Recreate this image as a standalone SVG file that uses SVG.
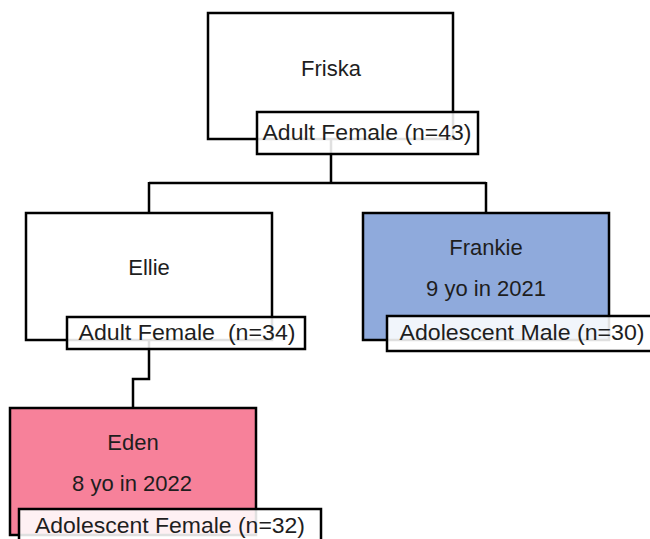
<svg xmlns="http://www.w3.org/2000/svg" width="650" height="539" viewBox="0 0 650 539">
<style>
.box{stroke:#000;stroke-width:2.5}
.lbl{fill:#fff;fill-opacity:0.88;stroke:#000;stroke-width:2.5}
.conn{fill:none;stroke:#000;stroke-width:2.5}
text{font-family:"Liberation Sans","Noto Sans",Arial,sans-serif;font-size:22px;fill:#1e1e1e;text-anchor:middle}
</style>
<rect width="650" height="539" fill="#fff"/>
<g id="connectors">
<path class="conn" d="M331,139 V183 M149,183 H486 M149,182 V213 M486,182 V213"/>
<path class="conn" d="M149,340 V379 H133 V408"/>
</g>
<g id="friska">
<rect class="box" x="208" y="13" width="245" height="126" fill="#fff"/>
<text x="331" y="76">Friska</text>
<rect class="lbl" x="257" y="112" width="221" height="42"/>
<text x="367" y="140" textLength="209" lengthAdjust="spacingAndGlyphs">Adult Female (n=43)</text>
</g>
<g id="ellie">
<rect class="box" x="26" y="213" width="246" height="127" fill="#fff"/>
<text x="149" y="275">Ellie</text>
<rect class="lbl" x="67" y="317" width="238" height="32"/>
<text x="187" y="340" textLength="217" lengthAdjust="spacingAndGlyphs" xml:space="preserve">Adult Female  (n=34)</text>
</g>
<g id="frankie">
<rect class="box" x="363" y="213" width="246" height="127" fill="#8FAADC"/>
<text x="486" y="255">Frankie</text>
<text x="486" y="296">9 yo in 2021</text>
<rect class="lbl" x="387" y="316" width="270" height="35"/>
<text x="522" y="340" textLength="245" lengthAdjust="spacingAndGlyphs">Adolescent Male (n=30)</text>
</g>
<g id="eden">
<rect class="box" x="10" y="408" width="246" height="127" fill="#F7819A"/>
<text x="133" y="450">Eden</text>
<text x="132" y="491">8 yo in 2022</text>
<rect class="lbl" x="19" y="509" width="302" height="40"/>
<text x="170" y="533" textLength="270" lengthAdjust="spacingAndGlyphs">Adolescent Female (n=32)</text>
</g>
</svg>
